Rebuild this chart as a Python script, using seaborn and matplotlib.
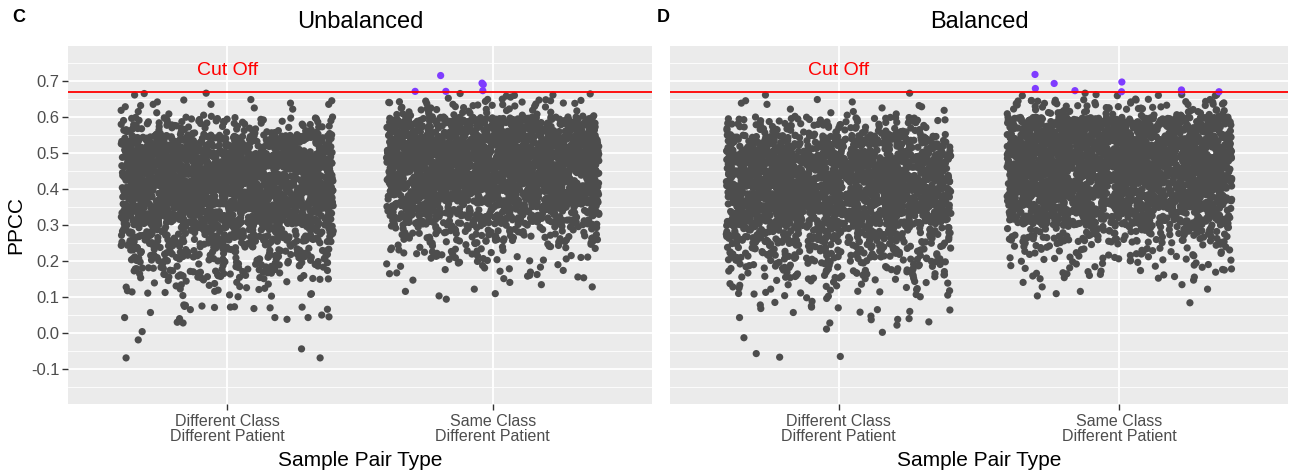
import numpy as np
import pandas as pd
import matplotlib
matplotlib.use('Agg')
from matplotlib import pyplot as plt
from matplotlib.ticker import FixedLocator
import seaborn as sns

# Categories and cut off
pair_types = ['Different Class\nDifferent Patient', 'Same Class\nDifferent Patient']
cut_off = 0.668

# Dense body of each strip: number of points per 0.05 PPCC bin
bin_starts = [0.10, 0.15, 0.20, 0.25, 0.30, 0.35, 0.40, 0.45, 0.50, 0.55, 0.60]
unbal_diff_counts = [30, 81, 124, 187, 360, 473, 404, 404, 311, 94, 15]
unbal_same_counts = [8, 22, 48, 94, 217, 311, 435, 530, 473, 311, 55]
bal_diff_counts = [33, 76, 118, 178, 341, 443, 443, 394, 238, 103, 15]
bal_same_counts = [8, 33, 53, 118, 281, 394, 443, 519, 519, 341, 76]

# Sparse points outside the dense body, read one by one
unbal_diff_tail = [0.666, 0.665, 0.661, 0.647, 0.635, 0.635,
                   0.073, 0.075, 0.078, 0.043, 0.072, 0.066, 0.077, 0.074, 0.043,
                   0.057, 0.045, 0.040, 0.072, 0.071, 0.038, 0.028, 0.070, 0.030,
                   0.068, 0.065, 0.043, 0.050, 0.004, -0.069, -0.069, -0.044, -0.019]
unbal_same_tail = [0.665, 0.664, 0.661, 0.660, 0.658, 0.655, 0.652, 0.094,
                   0.690, 0.671, 0.673, 0.715, 0.694, 0.671]
bal_diff_tail = [0.666, 0.661,
                 0.064, 0.078, 0.057, 0.058, 0.098, 0.096, 0.060, 0.070, 0.068,
                 0.072, 0.075, 0.085, 0.065, 0.088,
                 0.043, 0.047, 0.040, 0.037, 0.022, 0.002, 0.038, 0.011, 0.031, 0.028,
                 -0.013, -0.057, -0.065, -0.067]
bal_same_tail = [0.666, 0.662, 0.659, 0.659, 0.662, 0.660, 0.662, 0.659, 0.084,
                 0.673, 0.675, 0.697, 0.693, 0.718, 0.670, 0.672, 0.679, 0.670]


def strip_values(counts, tail):
    # spread each bin's count evenly across its 0.05 width, then add the sparse points
    vals = []
    for start, n in zip(bin_starts, counts):
        vals.extend(start + (np.arange(n) + 0.5) / n * 0.05)
    vals.extend(tail)
    return vals


def make_frame(diff_counts, diff_tail, same_counts, same_tail):
    diff = strip_values(diff_counts, diff_tail)
    same = strip_values(same_counts, same_tail)
    df = pd.DataFrame({'type': [pair_types[0]] * len(diff) + [pair_types[1]] * len(same),
                       'ppcc': diff + same})
    df['side'] = np.where(df['ppcc'] > cut_off, 'above', 'below')
    return df


unbalanced = make_frame(unbal_diff_counts, unbal_diff_tail, unbal_same_counts, unbal_same_tail)
balanced = make_frame(bal_diff_counts, bal_diff_tail, bal_same_counts, bal_same_tail)

plt.rcParams['font.family'] = ['Liberation Sans', 'DejaVu Sans']

W, H = 1298, 475
fig = plt.figure(figsize=(W / 100, H / 100), dpi=100)
ax_c = fig.add_axes([68 / W, 1 - 404 / H, 584 / W, 358 / H])
ax_d = fig.add_axes([670 / W, 1 - 404 / H, 618 / W, 358 / H])

np.random.seed(3)
for ax, df, title, letter in [(ax_c, unbalanced, 'Unbalanced', 'C'),
                              (ax_d, balanced, 'Balanced', 'D')]:
    ax.set_facecolor('#EBEBEB')
    sns.stripplot(data=df, x='type', y='ppcc', hue='side', order=pair_types,
                  hue_order=['below', 'above'],
                  palette={'below': '#4d4d4d', 'above': '#7f3cff'},
                  jitter=0.4, size=5.2, linewidth=0, legend=False, ax=ax, zorder=3)
    ax.axhline(cut_off, color='#ff0000', lw=1.3, zorder=4)
    ax.text(0, 0.73, 'Cut Off', color='#ff0000', fontsize=14, ha='center', va='center')

    ax.set_xlim(-0.6, 1.6)
    ax.set_ylim(-0.197, 0.797)
    ax.yaxis.set_major_locator(FixedLocator(np.round(np.arange(-0.1, 0.71, 0.1), 2)))
    ax.yaxis.set_minor_locator(FixedLocator(np.round(np.arange(-0.15, 0.76, 0.1), 2)))
    ax.set_yticklabels(['%.1f' % v for v in np.arange(-0.1, 0.71, 0.1)])
    ax.grid(True, which='major', color='white', lw=1.3)
    ax.grid(True, which='minor', axis='y', color='white', lw=0.6)
    ax.set_axisbelow(True)
    for s in ax.spines.values():
        s.set_visible(False)

    ax.tick_params(axis='x', length=4, width=1, color='#333333', labelcolor='#4d4d4d',
                   labelsize=11.5, pad=3)
    ax.tick_params(axis='y', which='major', length=4, width=1, color='#333333',
                   labelcolor='#4d4d4d', labelsize=12, pad=2)
    ax.tick_params(axis='y', which='minor', length=0)
    for lab in ax.get_xticklabels():
        lab.set_linespacing(1.0)

    ax.set_xlabel('Sample Pair Type', fontsize=15, labelpad=5)
    ax.set_ylabel('PPCC', fontsize=15, labelpad=4)
    ax.text(0.5, 1 + 24 / 358, title, transform=ax.transAxes, fontsize=17,
            ha='center', va='center')

ax_d.set_ylabel('')
ax_d.tick_params(axis='y', which='major', length=0, labelleft=False)

fig.text(12 / W, 1 - 18 / H, 'C', fontsize=13, fontweight='bold', ha='left', va='center')
fig.text(657 / W, 1 - 18 / H, 'D', fontsize=13, fontweight='bold', ha='left', va='center')

fig.savefig('out.png', dpi=100)
